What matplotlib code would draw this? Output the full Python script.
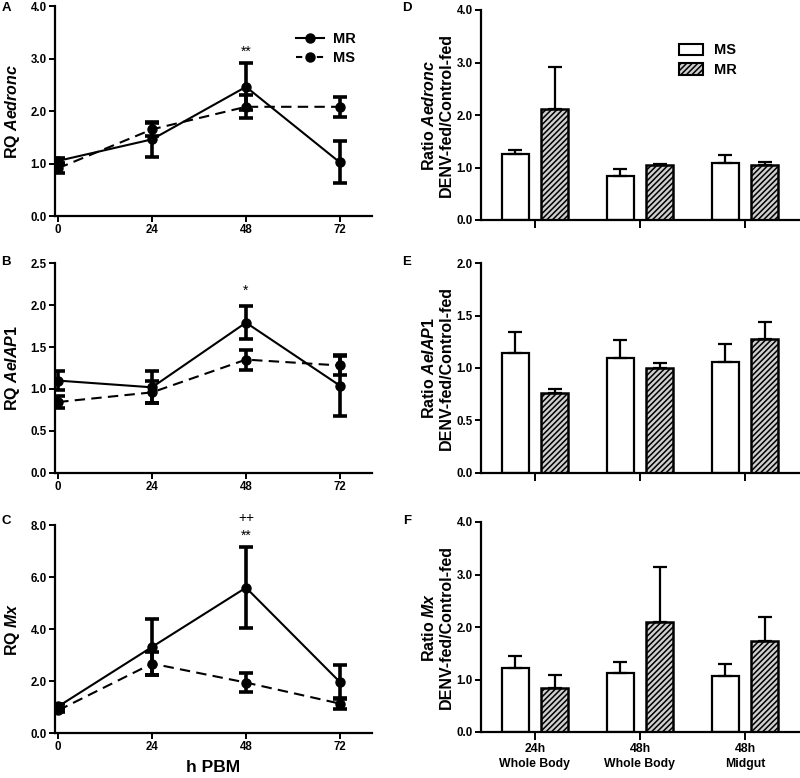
import numpy as np
import matplotlib
matplotlib.use("Agg")
import matplotlib.pyplot as plt
from matplotlib.lines import Line2D
from matplotlib.patches import Patch

plt.rcParams['font.family'] = ['Liberation Sans', 'DejaVu Sans']
plt.rcParams['font.weight'] = 'bold'
plt.rcParams['mathtext.fontset'] = 'custom'
plt.rcParams['mathtext.it'] = 'Liberation Sans:italic:bold'
plt.rcParams['mathtext.rm'] = 'Liberation Sans:bold'
plt.rcParams['hatch.linewidth'] = 1.1

# Zeitverlauf (h PBM)
hours = [0, 24, 48, 72]

# A: Aedronc
aedronc_mr = [1.05, 1.46, 2.46, 1.02]
aedronc_mr_err = [0.05, 0.34, 0.45, 0.40]
aedronc_ms = [0.91, 1.65, 2.08, 2.08]
aedronc_ms_err = [0.10, 0.12, 0.22, 0.19]

# B: AeIAP1
iap1_mr = [1.10, 1.02, 1.79, 1.04]
iap1_mr_err = [0.11, 0.19, 0.20, 0.36]
iap1_ms = [0.845, 0.96, 1.35, 1.28]
iap1_ms_err = [0.07, 0.13, 0.12, 0.11]

# C: Mx
mx_mr = [1.02, 3.31, 5.59, 1.96]
mx_mr_err = [0.08, 1.06, 1.55, 0.67]
mx_ms = [0.87, 2.67, 1.94, 1.13]
mx_ms_err = [0.08, 0.45, 0.38, 0.20]

# Balken: Verhältnis DENV-fed/Control-fed
groups = ["24h\nWhole Body", "48h\nWhole Body", "48h\nMidgut"]
d_ms = [1.25, 0.84, 1.08]
d_ms_err = [0.08, 0.14, 0.15]
d_mr = [2.12, 1.04, 1.04]
d_mr_err = [0.80, 0.02, 0.06]

e_ms = [1.144, 1.10, 1.06]
e_ms_err = [0.196, 0.17, 0.17]
e_mr = [0.766, 1.00, 1.28]
e_mr_err = [0.034, 0.05, 0.16]

f_ms = [1.21, 1.13, 1.07]
f_ms_err = [0.23, 0.20, 0.22]
f_mr = [0.83, 2.09, 1.74]
f_mr_err = [0.26, 1.06, 0.45]

W, H = 800, 778
fig = plt.figure(figsize=(W / 100, H / 100), dpi=100)


def px_axes(x0, y_top, x1, y_bot):
    return fig.add_axes([x0 / W, 1 - y_bot / H, (x1 - x0) / W, (y_bot - y_top) / H])


def style_axes(ax):
    for s in ['top', 'right']:
        ax.spines[s].set_visible(False)
    for s in ['left', 'bottom']:
        ax.spines[s].set_linewidth(1.6)
    ax.tick_params(width=1.4, length=4, labelsize=8.3, pad=2)
    for lab in ax.get_xticklabels() + ax.get_yticklabels():
        lab.set_fontweight('bold')


def line_panel(ax, mr, mr_err, ms, ms_err, ymax, ystep, gene):
    ax.errorbar(hours, mr, yerr=mr_err, color='black', lw=1.5, marker='o', ms=6.5,
                elinewidth=2.6, capsize=5, capthick=2.6, label='MR', zorder=3)
    ax.errorbar(hours, ms, yerr=ms_err, color='black', lw=1.5, ls=(0, (5, 3)), marker='o', ms=6.5,
                elinewidth=2.6, capsize=5, capthick=2.6, label='MS', zorder=3)
    ax.set_xlim(-0.8, 80.2)
    ax.set_ylim(0, ymax)
    ax.set_xticks(hours)
    ax.set_yticks(np.arange(0, ymax + ystep / 2, ystep))
    ax.yaxis.set_major_formatter(matplotlib.ticker.FormatStrFormatter('%.1f'))
    style_axes(ax)
    ax.set_ylabel(r"RQ $\mathit{" + gene + "}$", fontsize=11.5, fontweight='bold')
    ax.yaxis.set_label_coords(-0.105, 0.5)


def bar_panel(ax, ms, ms_err, mr, mr_err, ymax, ystep, gene, show_labels):
    x = np.arange(len(groups))
    off = 0.188
    bw = 0.255
    ax.bar(x - off, ms, bw, color='white', edgecolor='black', lw=1.6,
           yerr=[np.zeros(3), ms_err], error_kw=dict(elinewidth=1.6, capsize=5, capthick=1.6), label='MS', zorder=2)
    ax.bar(x + off, mr, bw, color='#cfcfcf', edgecolor='black', lw=1.8, hatch='//////',
           yerr=[np.zeros(3), mr_err], error_kw=dict(elinewidth=1.6, capsize=5, capthick=1.6), label='MR', zorder=2)
    ax.set_xlim(-0.514, 2.524)
    ax.set_ylim(0, ymax)
    ax.set_yticks(np.arange(0, ymax + ystep / 2, ystep))
    ax.yaxis.set_major_formatter(matplotlib.ticker.FormatStrFormatter('%.1f'))
    ax.set_xticks(x)
    if show_labels:
        ax.set_xticklabels(groups, fontsize=8.8, fontweight='bold', linespacing=1.35)
    else:
        ax.set_xticklabels([])
    style_axes(ax)
    ax.tick_params(axis='x', length=6, labelsize=8.8)
    ax.set_ylabel("Ratio $\\mathit{" + gene + "}$\nDENV-fed/Control-fed", fontsize=11.5,
                  fontweight='bold', linespacing=1.15)
    ax.yaxis.set_label_coords(-0.085, 0.5)


axA = px_axes(55, 6, 372, 216)
axB = px_axes(55, 263, 372, 473)
axC = px_axes(55, 525, 372, 733)
axD = px_axes(481, 10, 800, 220)
axE = px_axes(481, 263, 800, 473)
axF = px_axes(481, 522, 800, 732)

line_panel(axA, aedronc_mr, aedronc_mr_err, aedronc_ms, aedronc_ms_err, 4.0, 1.0, "Aedronc")
line_panel(axB, iap1_mr, iap1_mr_err, iap1_ms, iap1_ms_err, 2.5, 0.5, "AeIAP1")
line_panel(axC, mx_mr, mx_mr_err, mx_ms, mx_ms_err, 8.0, 2.0, "Mx")
axC.set_xlabel("h PBM", fontsize=12.5, fontweight='bold')
axC.xaxis.set_label_coords(0.5, -0.13)

bar_panel(axD, d_ms, d_ms_err, d_mr, d_mr_err, 4.0, 1.0, "Aedronc", False)
bar_panel(axE, e_ms, e_ms_err, e_mr, e_mr_err, 2.0, 0.5, "AeIAP1", False)
bar_panel(axF, f_ms, f_ms_err, f_mr, f_mr_err, 4.0, 1.0, "Mx", True)

# Signifikanz
axA.text(48, 3.13, "**", ha='center', va='center', fontsize=10, fontweight='normal')
axB.text(48, 2.17, "*", ha='center', va='center', fontsize=10, fontweight='normal')
axC.text(48, 7.6, "**", ha='center', va='center', fontsize=10, fontweight='normal')
axC.text(48, 8.28, "++", ha='center', va='center', fontsize=10, fontweight='normal', clip_on=False)

# Legenden
leg_handles = [
    Line2D([], [], color='black', lw=1.5, marker='o', ms=6.5),
    Line2D([], [], color='black', lw=1.5, ls=(0, (3, 2)), marker='o', ms=6.5),
]
axA.legend(leg_handles, ['MR', 'MS'], loc='upper left', bbox_to_anchor=(289 / W, 1 - 25 / H),
           bbox_transform=fig.transFigure, frameon=False, handlelength=1.9,
           handletextpad=0.6, labelspacing=0.3, borderpad=0, prop=dict(weight='bold', size=10.5))

bar_handles = [
    Patch(facecolor='white', edgecolor='black', lw=1.5),
    Patch(facecolor='#cfcfcf', edgecolor='black', lw=1.5, hatch='//////'),
]
axD.legend(bar_handles, ['MS', 'MR'], loc='upper left', bbox_to_anchor=(672 / W, 1 - 36 / H),
           bbox_transform=fig.transFigure, frameon=False, handlelength=1.6, handleheight=0.8,
           handletextpad=0.8, labelspacing=0.4, borderpad=0, prop=dict(weight='bold', size=10.5))

# Panelbuchstaben
for lab, (px, py) in zip("ABCDEF", [(6, 8), (6, 262), (6, 521), (407, 8), (407, 262), (407, 521)]):
    fig.text(px / W, 1 - py / H, lab, ha='center', va='center', fontsize=9.5, fontweight='bold')

fig.savefig("out.png", dpi=100)
